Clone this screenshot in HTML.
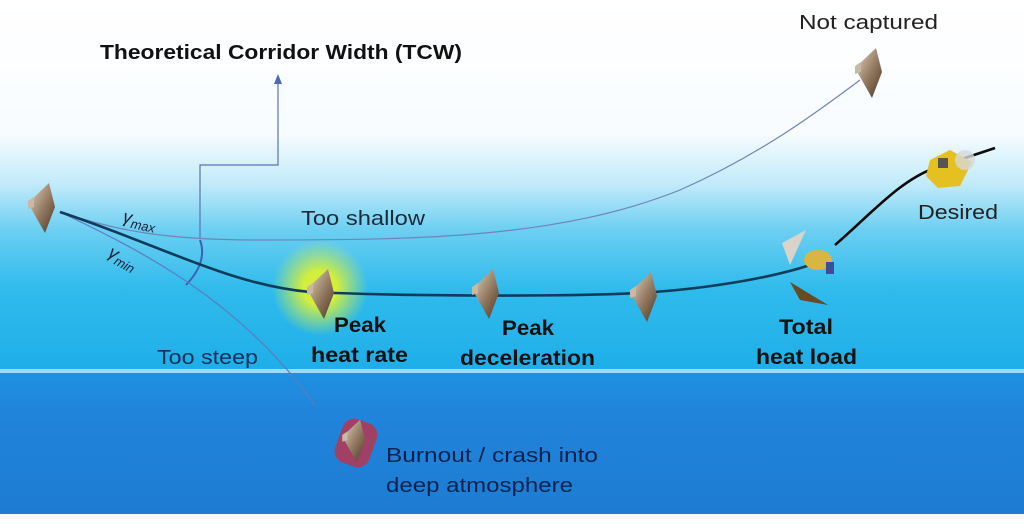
<!DOCTYPE html>
<html><head><style>
html,body{margin:0;padding:0;}
body{width:1024px;height:519px;overflow:hidden;background:#fff;}
svg text{font-family:"Liberation Sans","DejaVu Sans",sans-serif;}
</style></head><body>
<svg width="1024" height="519" viewBox="0 0 1024 519" xmlns="http://www.w3.org/2000/svg">
<defs>
<linearGradient id="sky" x1="0" y1="0" x2="0" y2="1">
<stop offset="0" stop-color="#ffffff"/>
<stop offset="0.36" stop-color="#f8fcff"/>
<stop offset="0.5" stop-color="#c0eafa"/>
<stop offset="0.62" stop-color="#6dcff2"/>
<stop offset="0.78" stop-color="#30bbec"/>
<stop offset="1" stop-color="#1eaee8"/>
</linearGradient>
<linearGradient id="sea" x1="0" y1="0" x2="0" y2="1">
<stop offset="0" stop-color="#1e92e2"/>
<stop offset="0.3" stop-color="#2084da"/>
<stop offset="1" stop-color="#1d7cd2"/>
</linearGradient>
<radialGradient id="glowG"><stop offset="0.35" stop-color="#d4ee3c"/><stop offset="1" stop-color="#c8ec50" stop-opacity="0"/></radialGradient>
<linearGradient id="cap" x1="0" y1="0" x2="1" y2="1">
<stop offset="0" stop-color="#e8dccb"/><stop offset="0.5" stop-color="#9a8068"/><stop offset="1" stop-color="#4a3420"/>
</linearGradient>
<g id="capsule">
<polygon points="-15,-4 6,-24 12,0 2,26" fill="url(#cap)"/>
<polygon points="-15,-6 -9,-10 -9,0 -15,2" fill="#c9b9a4"/>
</g>
</defs>
<rect x="0" y="0" width="1024" height="370" fill="url(#sky)"/>
<rect x="0" y="370" width="1024" height="146" fill="url(#sea)"/>
<rect x="0" y="369" width="1024" height="4" fill="#bfe9fb" opacity="0.8"/>
<rect x="0" y="514" width="1024" height="5" fill="#f4f8fb"/>

<ellipse cx="320" cy="288" rx="48" ry="48" fill="url(#glowG)"/>
<rect x="338" y="420" width="36" height="46" rx="12" fill="#c23048" opacity="0.8" transform="rotate(20 356 443)"/>

<polyline points="200,238 200,165 278,165 278,82" fill="none" stroke="#5a73b0" stroke-width="1.2"/>
<polygon points="278,74 274,84 282,84" fill="#4d6bb8"/>
<path d="M200,240 Q208,262 186,285" fill="none" stroke="#3d62b0" stroke-width="2"/>

<path d="M60,212 C120,232 170,240 260,240 C420,240 560,238 680,190 C760,155 820,110 860,80" fill="none" stroke="#6f85b8" stroke-width="1.2"/>
<path d="M60,212 C140,250 240,300 315,405" fill="none" stroke="#5d7cc0" stroke-width="1.2"/>
<path d="M60,212 C160,245 230,285 310,292 C400,296 560,297 640,293 C720,288 780,275 810,265" fill="none" stroke="#0f3c5a" stroke-width="2.6"/>
<path d="M835,245 C870,215 900,180 935,168 L995,148" fill="none" stroke="#0b0b0b" stroke-width="2.6"/>

<use href="#capsule" transform="translate(43,207)"/>
<use href="#capsule" transform="translate(322,293)"/>
<use href="#capsule" transform="translate(487,293)"/>
<use href="#capsule" transform="translate(645,296)"/>
<use href="#capsule" transform="translate(870,72)"/>
<use href="#capsule" transform="translate(355,440) scale(0.85)"/>
<polygon points="782,243 806,230 790,265" fill="#d8d4cc"/>
<polygon points="790,282 828,305 800,300" fill="#6a4a20"/>
<g>
<ellipse cx="818" cy="260" rx="14" ry="10" fill="#d8b640"/>
<rect x="826" y="262" width="8" height="12" fill="#3a4ea0"/>
<polygon points="930,160 950,150 972,162 960,186 938,188 926,176" fill="#e4c020"/>
<circle cx="965" cy="160" r="10" fill="#d8d8d8" opacity="0.8"/>
<rect x="938" y="158" width="10" height="10" fill="#555"/>
</g>

<text x="100" y="59" font-size="20" font-weight="bold" fill="#111" textLength="362" lengthAdjust="spacingAndGlyphs">Theoretical Corridor Width (TCW)</text>
<text x="799" y="29" font-size="20" fill="#222" textLength="139" lengthAdjust="spacingAndGlyphs">Not captured</text>
<text x="918" y="219" font-size="20" fill="#222" textLength="80" lengthAdjust="spacingAndGlyphs">Desired</text>
<text x="301" y="225" font-size="20" fill="#1e2a3a" textLength="124" lengthAdjust="spacingAndGlyphs">Too shallow</text>
<text x="122" y="222" font-size="18" font-style="italic" fill="#1a2030" transform="rotate(12 122 222)">γ<tspan font-size="13" dy="4">max</tspan></text>
<text x="107" y="256" font-size="18" font-style="italic" fill="#1a2030" transform="rotate(28 107 256)">γ<tspan font-size="13" dy="4">min</tspan></text>
<text x="157" y="364" font-size="20" fill="#14305a" textLength="101" lengthAdjust="spacingAndGlyphs">Too steep</text>
<text x="334" y="332" font-size="21" font-weight="bold" fill="#111" textLength="52" lengthAdjust="spacingAndGlyphs">Peak</text>
<text x="311" y="362" font-size="21" font-weight="bold" fill="#111" textLength="97" lengthAdjust="spacingAndGlyphs">heat rate</text>
<text x="502" y="335" font-size="21" font-weight="bold" fill="#111" textLength="52" lengthAdjust="spacingAndGlyphs">Peak</text>
<text x="460" y="365" font-size="21" font-weight="bold" fill="#111" textLength="135" lengthAdjust="spacingAndGlyphs">deceleration</text>
<text x="779" y="334" font-size="21" font-weight="bold" fill="#111" textLength="54" lengthAdjust="spacingAndGlyphs">Total</text>
<text x="756" y="364" font-size="21" font-weight="bold" fill="#111" textLength="101" lengthAdjust="spacingAndGlyphs">heat load</text>
<text x="386" y="462" font-size="20" fill="#0c2350" textLength="212" lengthAdjust="spacingAndGlyphs">Burnout / crash into</text>
<text x="386" y="492" font-size="20" fill="#0c2350" textLength="187" lengthAdjust="spacingAndGlyphs">deep atmosphere</text>
</svg>
</body></html>
